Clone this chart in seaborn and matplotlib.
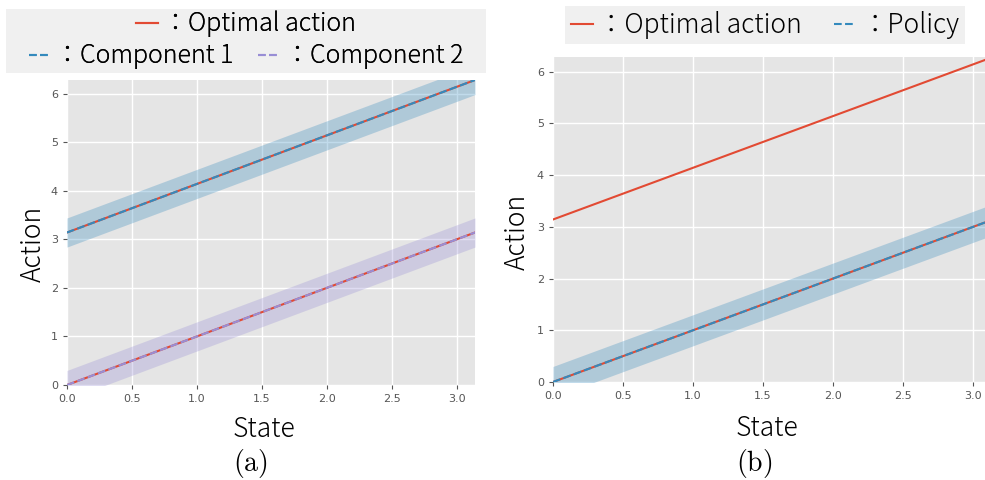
import numpy as np
import pandas as pd
import matplotlib
matplotlib.use("Agg")
import matplotlib.pyplot as plt
from matplotlib.patches import Rectangle
from matplotlib.lines import Line2D
import seaborn as sns

# ---- data ----
state = [0.0, 3.1416]
optimal_upper = [3.1416, 6.2832]
optimal_lower = [0.0, 3.1416]
component1 = [3.1416, 6.2832]
component2 = [0.0, 3.1416]
policy = [0.0, 3.1416]
band_halfwidth = 0.3
xticks = [0.0, 0.5, 1.0, 1.5, 2.0, 2.5, 3.0]
yticks = [0, 1, 2, 3, 4, 5, 6]

RED = "#E24A33"
BLUE = "#348ABD"
PURPLE = "#988ED5"
JP = "Noto Sans CJK JP"

plt.style.use("ggplot")
plt.rcParams["mathtext.fontset"] = "cm"
plt.rcParams["font.family"] = ["DejaVu Sans"]

fig = plt.figure(figsize=(9.85, 4.8), dpi=100)
axL = fig.add_axes([0.068, 0.1979, 0.4142, 0.6354])
axR = fig.add_axes([0.5614, 0.2042, 0.4467, 0.677])

df = pd.DataFrame({"state": state, "opt_u": optimal_upper, "opt_l": optimal_lower,
                   "c1": component1, "c2": component2, "pol": policy})

def style(ax):
    ax.set_xlim(0, np.pi)
    ax.set_ylim(0, 2 * np.pi)
    ax.set_xticks(xticks)
    ax.set_yticks(yticks)
    ax.set_xticklabels([f"{t:.1f}" for t in xticks])
    ax.set_yticklabels([str(t) for t in yticks])
    ax.tick_params(labelsize=8, colors="#555555", length=3)
    ax.grid(True, color="white", linewidth=1)
    ax.set_facecolor("#E5E5E5")
    for s in ax.spines.values():
        s.set_visible(False)

# left panel
s = np.array(state)
axL.fill_between(s, np.array(component1) - band_halfwidth, np.array(component1) + band_halfwidth,
                 color=BLUE, alpha=0.3, linewidth=0)
axL.fill_between(s, np.array(component2) - band_halfwidth, np.array(component2) + band_halfwidth,
                 color=PURPLE, alpha=0.3, linewidth=0)
sns.lineplot(data=df, x="state", y="opt_u", ax=axL, color=RED, linewidth=1.5)
sns.lineplot(data=df, x="state", y="opt_l", ax=axL, color=RED, linewidth=1.5)
sns.lineplot(data=df, x="state", y="c1", ax=axL, color=BLUE, linewidth=1.5, linestyle="--")
sns.lineplot(data=df, x="state", y="c2", ax=axL, color=PURPLE, linewidth=1.5, linestyle="--")
style(axL)
lab = dict(fontsize=19, family=JP, color="black", fontweight="light")
axL.set_xlabel("State", **lab)
axL.set_ylabel("Action", **lab)
axL.xaxis.set_label_coords(0.484, -0.098)
axL.yaxis.set_label_coords(-0.05, 0.462)

# right panel
axR.fill_between(s, np.array(policy) - band_halfwidth, np.array(policy) + band_halfwidth,
                 color=BLUE, alpha=0.3, linewidth=0)
sns.lineplot(data=df, x="state", y="opt_u", ax=axR, color=RED, linewidth=1.5)
sns.lineplot(data=df, x="state", y="opt_l", ax=axR, color=RED, linewidth=1.5)
sns.lineplot(data=df, x="state", y="pol", ax=axR, color=BLUE, linewidth=1.5, linestyle="--")
style(axR)
axR.set_xlabel("State", **lab)
axR.set_ylabel("Action", **lab)
axR.xaxis.set_label_coords(0.487, -0.098)
axR.yaxis.set_label_coords(-0.05, 0.4615)

# legends
h_opt = Line2D([], [], color=RED, linewidth=1.5)
h_c1 = Line2D([], [], color=BLUE, linewidth=1.5, linestyle="--")
h_c2 = Line2D([], [], color=PURPLE, linewidth=1.5, linestyle="--")
h_pol = Line2D([], [], color=BLUE, linewidth=1.5, linestyle="--")

fig.patches.append(Rectangle((6 / 985, 1 - 73 / 480), 480 / 985, 64 / 480,
                             transform=fig.transFigure, facecolor="#F0F0F0",
                             edgecolor="none", zorder=0))
legprop = {"family": JP, "size": 18, "weight": "light"}
leg1 = fig.legend([h_opt], ["：Optimal action"], loc="center",
                  bbox_to_anchor=(246 / 985, 1 - 24 / 480), frameon=False,
                  prop=legprop, handlelength=0.85,
                  handletextpad=0.2, borderpad=0.1)
leg2 = fig.legend([h_c1, h_c2], ["：Component 1", "：Component 2"], loc="center", ncol=2,
                  bbox_to_anchor=(246 / 985, 1 - 56 / 480), frameon=False,
                  prop=legprop, handlelength=0.85,
                  handletextpad=0.2, columnspacing=1.0, borderpad=0.1)
fig.add_artist(leg1)

legR = fig.legend([h_opt, h_pol], ["：Optimal action", "：Policy"], loc="center", ncol=2,
                  bbox_to_anchor=(765 / 985, 1 - 25 / 480), frameon=True,
                  facecolor="#F0F0F0", edgecolor="none", fancybox=False, framealpha=1,
                  prop={"family": JP, "size": 19, "weight": "light"}, handlelength=0.85,
                  handletextpad=0.2, columnspacing=1.2, borderpad=0.2)
fig.add_artist(leg2)

fig.text(250 / 985, 1 - 464 / 480, r"$(\mathrm{a})$", ha="center", va="center", fontsize=20)
fig.text(754 / 985, 1 - 463 / 480, r"$(\mathrm{b})$", ha="center", va="center", fontsize=20)

fig.savefig("out.png", dpi=100)
